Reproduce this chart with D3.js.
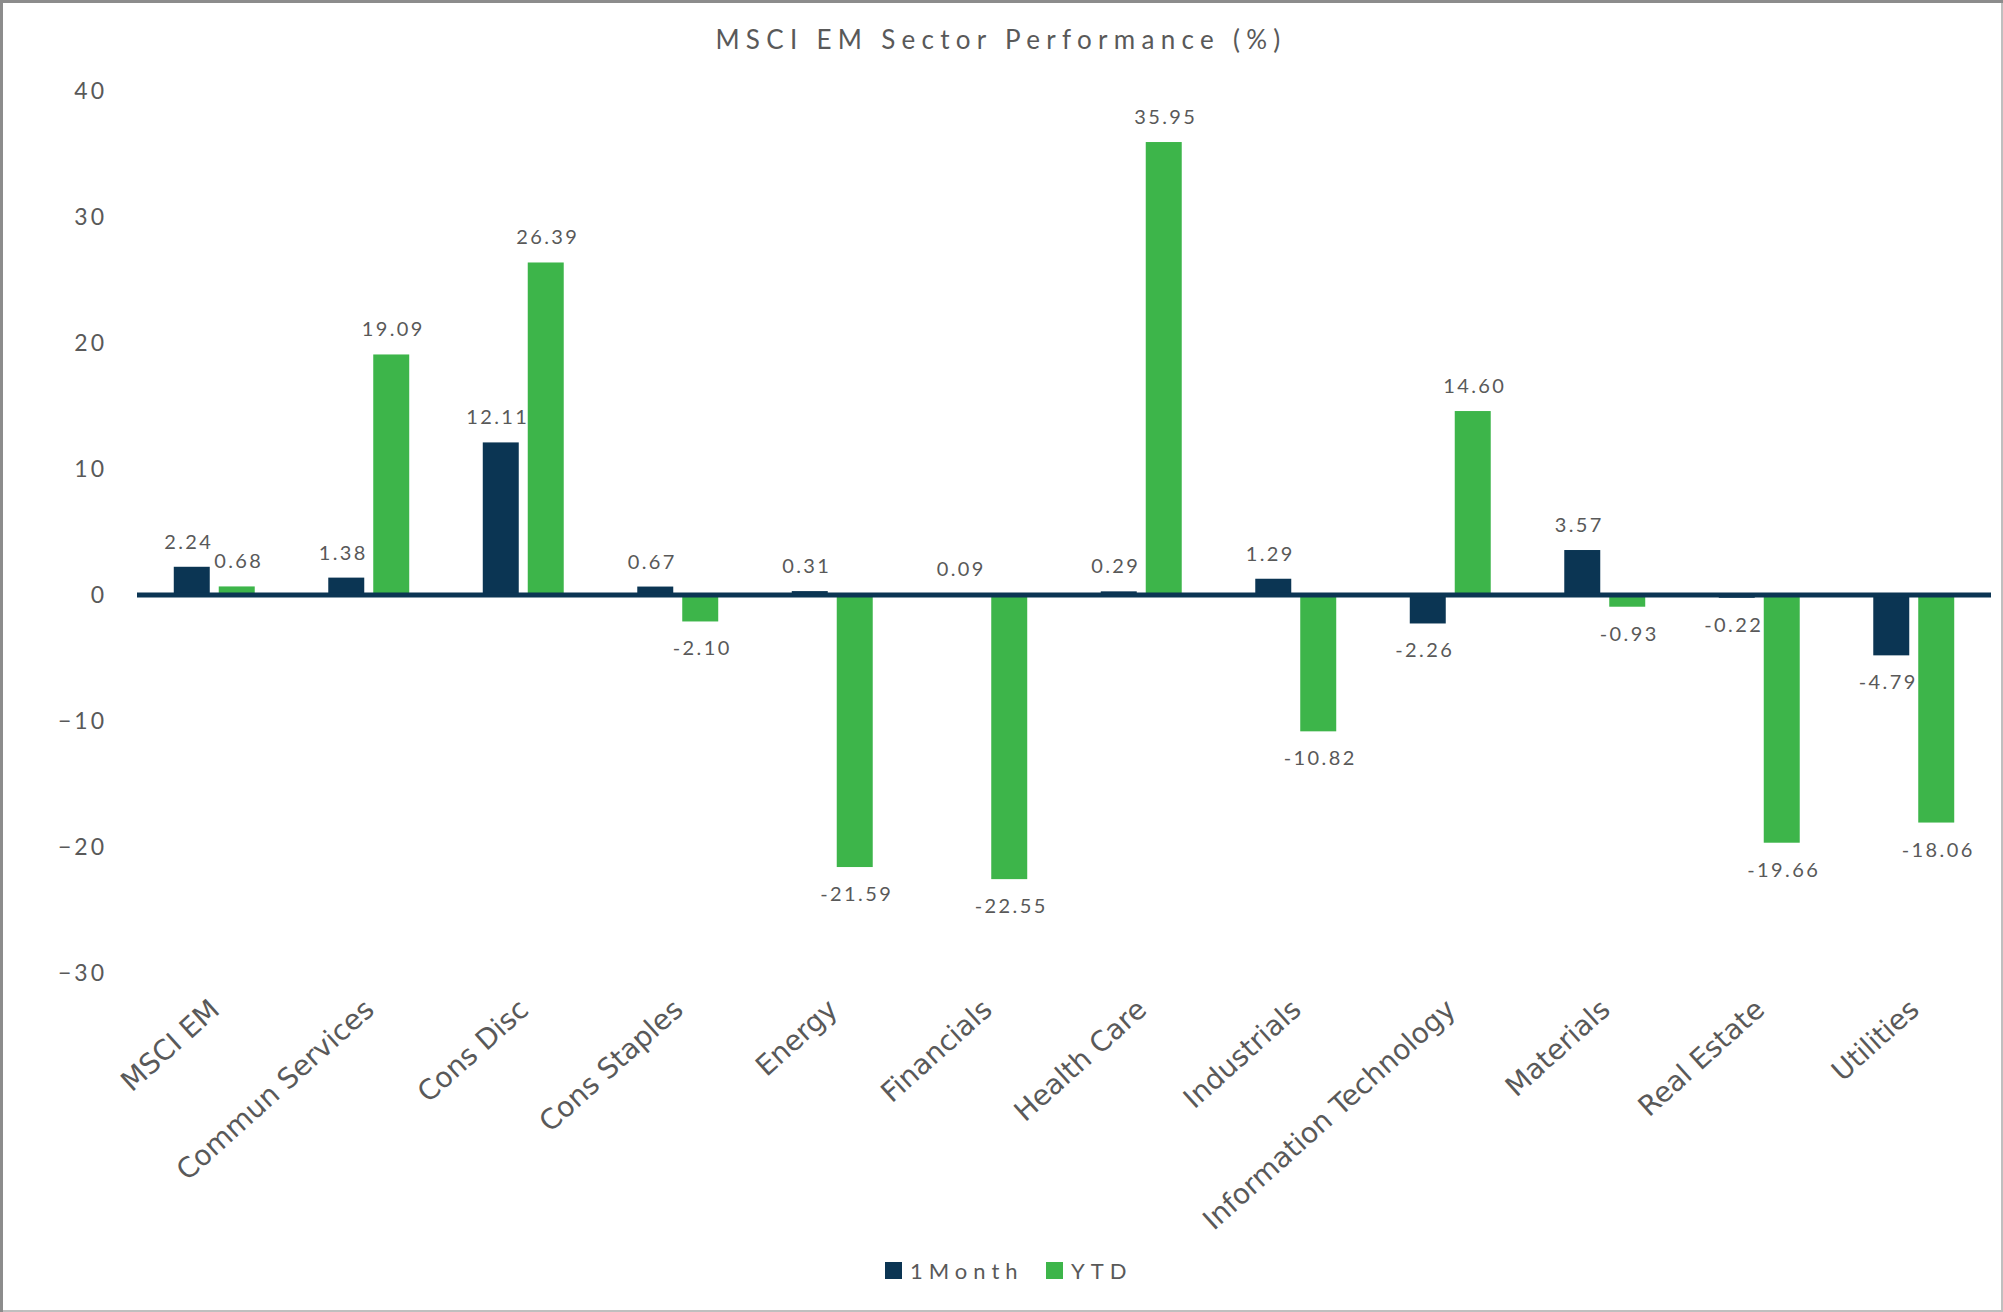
<!DOCTYPE html>
<html>
<head>
<meta charset="utf-8">
<script src="https://cdn.jsdelivr.net/npm/d3@7"></script>
<style>
  body { margin: 0; background: #fff; }
  svg { display: block; }
  text { fill: #595959; }
</style>
</head>
<body>
<div id="chart"></div>
<script>
// Data
const categories = ["MSCI EM", "Commun Services", "Cons Disc", "Cons Staples", "Energy", "Financials",
  "Health Care", "Industrials", "Information Technology", "Materials", "Real Estate", "Utilities"];
const seriesNames = ["1Month", "YTD"];
const oneMonth = [2.24, 1.38, 12.11, 0.67, 0.31, 0.09, 0.29, 1.29, -2.26, 3.57, -0.22, -4.79];
const ytd = [0.68, 19.09, 26.39, -2.10, -21.59, -22.55, 35.95, -10.82, 14.60, -0.93, -19.66, -18.06];
const yTicks = [-30, -20, -10, 0, 10, 20, 30, 40];

const width = 2003, height = 1312;
const colors = { "1Month": "#0b3553", "YTD": "#3db54a" };

const rows = categories.map((c, i) => ({ cat: c, values: [
  { key: "1Month", value: oneMonth[i] },
  { key: "YTD", value: ytd[i] }
]}));

const svg = d3.select("#chart")
  .append("svg")
    .attr("width", width)
    .attr("height", height);

// Frame
svg.append("rect")
  .attr("x", 0).attr("y", 0).attr("width", width).attr("height", height)
  .attr("fill", "#fff");
svg.append("line").attr("x1", 1).attr("x2", width - 1).attr("y1", height - 1).attr("y2", height - 1)
  .attr("stroke", "#bfbfbf").attr("stroke-width", 2);
svg.append("line").attr("x1", width - 1).attr("x2", width - 1).attr("y1", 0).attr("y2", height)
  .attr("stroke", "#bfbfbf").attr("stroke-width", 2);
svg.append("line").attr("x1", 1.5).attr("x2", 1.5).attr("y1", 0).attr("y2", height)
  .attr("stroke", "#8c8c8c").attr("stroke-width", 3);
svg.append("line").attr("x1", 0).attr("x2", width).attr("y1", 1.5).attr("y2", 1.5)
  .attr("stroke", "#8c8c8c").attr("stroke-width", 3);

// Title
svg.append("text")
  .attr("x", 1001)
  .attr("y", 40)
  .attr("dy", "0.35em")
  .attr("text-anchor", "middle")
  .style("font-family", "Lato, 'Liberation Sans', sans-serif")
  .style("font-size", "26px")
  .style("letter-spacing", "6.3px")
  .text("MSCI EM Sector Performance (%)");

/* Scales */
const x0 = d3.scaleBand()
  .domain(categories)
  .range([137, 1991])
  .paddingInner(0.476)
  .paddingOuter(0.238);
const x1 = d3.scaleBand()
  .domain(seriesNames)
  .range([0, x0.bandwidth()])
  .paddingInner(0.2);
const y = d3.scaleLinear()
  .domain([-30, 40])
  .range([973, 91]);

/* Y axis */
const yAxis = svg.append("g")
  .attr("transform", "translate(137,0)")
  .call(d3.axisLeft(y).tickValues(yTicks).tickSize(0).tickPadding(30).tickFormat(d3.format("d")));
yAxis.select(".domain").remove();
yAxis.selectAll("text")
  .attr("dy", "0.33em")
  .style("font-family", "Lato, 'Liberation Sans', sans-serif")
  .style("font-size", "23px")
  .style("letter-spacing", "3px")
  .attr("fill", "#595959");

/* Bars */
const groups = svg.append("g")
  .selectAll("g")
  .data(rows)
  .join("g")
    .attr("transform", d => `translate(${x0(d.cat)},0)`);

groups.selectAll("rect")
  .data(d => d.values)
  .join("rect")
    .attr("x", d => x1(d.key))
    .attr("width", x1.bandwidth())
    .attr("y", d => y(Math.max(0, d.value)))
    .attr("height", d => Math.abs(y(d.value) - y(0)))
    .attr("fill", d => colors[d.key]);

// Data labels (1Month labels nudged left a little, like the original)
groups.selectAll("text")
  .data(d => d.values)
  .join("text")
    .attr("x", d => x1(d.key) + x1.bandwidth() / 2 + (d.key === "1Month" ? -3 : 2))
    .attr("y", d => d.value >= 0 ? y(d.value) - 25 : y(d.value) + 27)
    .attr("dy", "0.35em")
    .attr("text-anchor", "middle")
    .style("font-family", "Lato, 'Liberation Sans', sans-serif")
    .style("font-size", "20px")
    .style("letter-spacing", "2.4px")
    .text(d => d.value.toFixed(2));

// Zero line
svg.append("line")
  .attr("x1", 137).attr("x2", 1991)
  .attr("y1", y(0)).attr("y2", y(0))
  .attr("stroke", "#0b3553")
  .attr("stroke-width", 5);

/* X axis labels */
const xAxis = svg.append("g")
  .attr("transform", "translate(0,1000)")
  .call(d3.axisBottom(x0).tickSize(0).tickPadding(0));
xAxis.select(".domain").remove();
xAxis.selectAll("text")
  .attr("text-anchor", "end")
  .attr("x", 0).attr("y", 0).attr("dy", 0)
  .attr("transform", "translate(7,12) rotate(-42)")
  .style("font-family", "'DejaVu Sans', sans-serif")
  .style("font-size", "28px")
  .attr("fill", "#595959");

/* Legend */
const legend = svg.append("g")
  .attr("transform", "translate(885,1271)");
const legendX = [0, 161];
seriesNames.forEach((s, i) => {
  const g = legend.append("g").attr("transform", `translate(${legendX[i]},0)`);
  g.append("rect")
    .attr("x", 0).attr("y", -9)
    .attr("width", 17).attr("height", 17)
    .attr("fill", colors[s]);
  g.append("text")
    .attr("x", 25)
    .attr("dy", "0.35em")
    .style("font-family", "Lato, 'Liberation Sans', sans-serif")
    .style("font-size", "22px")
    .style("letter-spacing", "6px")
    .text(s);
});
</script>
</body>
</html>
